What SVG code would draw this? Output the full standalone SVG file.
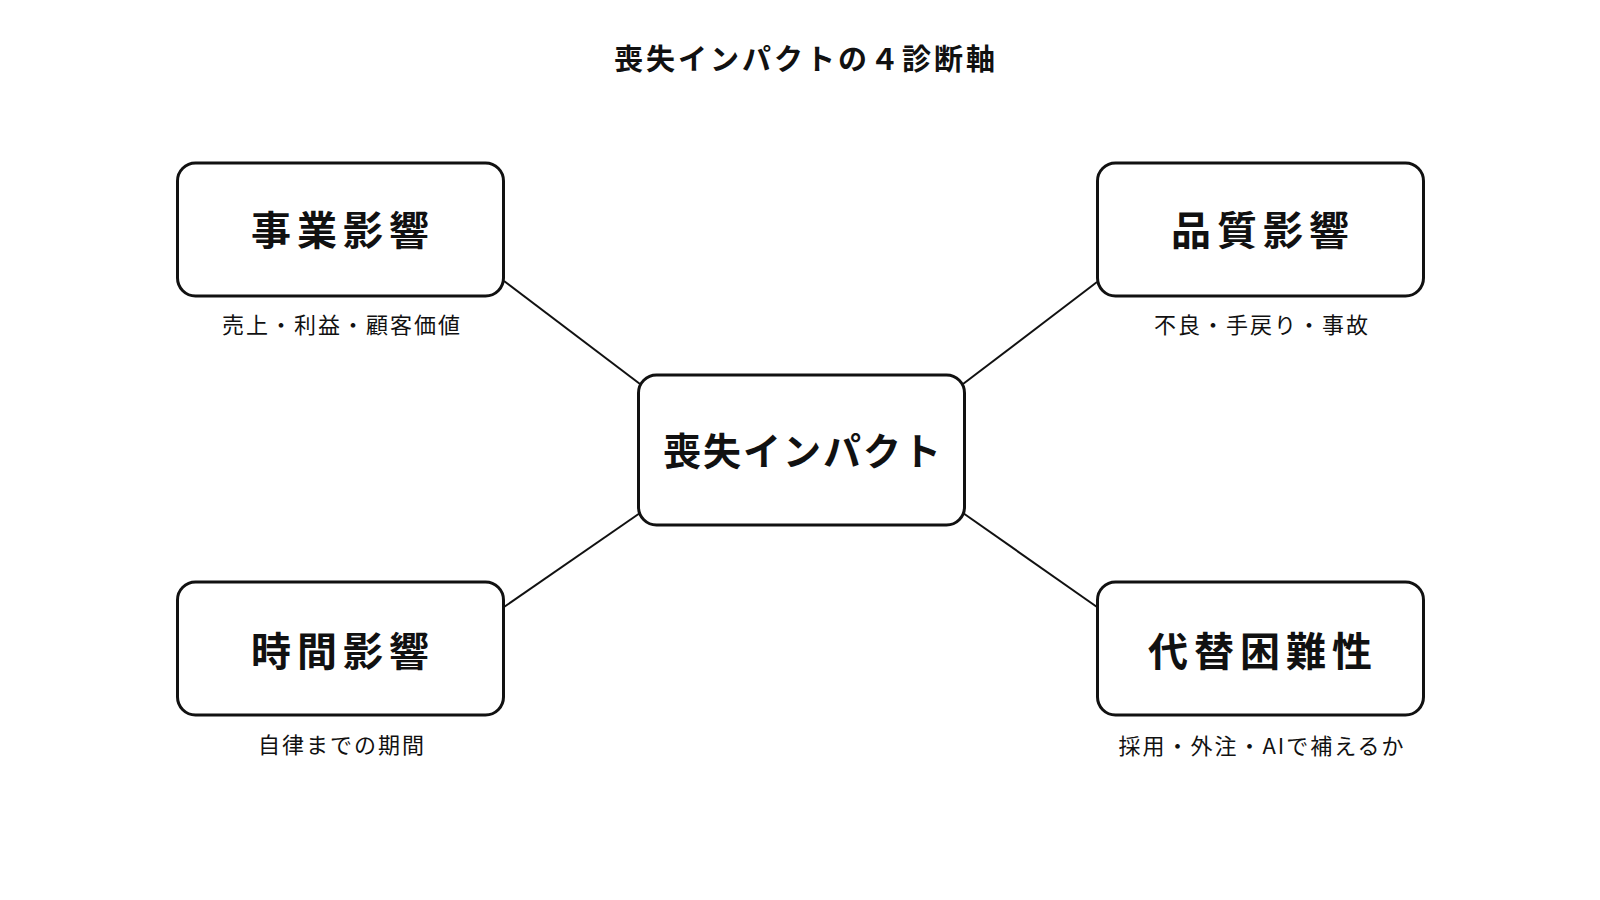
<svg xmlns="http://www.w3.org/2000/svg" width="1600" height="900" viewBox="0 0 1600 900">
<style>
.box{fill:#ffffff;stroke:#111111;stroke-width:3}
.t{font-family:"Noto Sans CJK JP","Noto Sans CJK SC",sans-serif;fill:#111111;text-anchor:middle;dominant-baseline:central}
.title{font-size:29px;font-weight:700;letter-spacing:3px}
.head{font-size:40px;font-weight:700;letter-spacing:6px}
.main{font-size:38px;font-weight:700;letter-spacing:2px}
.sub{font-size:22px;font-weight:400;letter-spacing:2px}
.conn{stroke:#111111;stroke-width:2;fill:none}
</style>
<rect width="1600" height="900" fill="#ffffff"/>
<text class="t title" x="806" y="57">喪失インパクトの４診断軸</text>
<g id="connectors">
<line class="conn" x1="504" y1="281" x2="640" y2="384"/>
<line class="conn" x1="504" y1="607" x2="640" y2="513"/>
<line class="conn" x1="963" y1="384" x2="1097" y2="282"/>
<line class="conn" x1="963" y1="513" x2="1097" y2="607"/>
</g>
<g id="center">
<rect class="box" x="638.5" y="375" width="326" height="150" rx="18"/>
<text class="t main" x="803" y="448">喪失インパクト</text>
</g>
<g id="business">
<rect class="box" x="177.5" y="163" width="326" height="133" rx="18"/>
<text class="t head" x="343" y="228">事業影響</text>
<text class="t sub" x="342" y="323">売上・利益・顧客価値</text>
</g>
<g id="quality">
<rect class="box" x="1097.5" y="163" width="326" height="133" rx="18"/>
<text class="t head" x="1263" y="228">品質影響</text>
<text class="t sub" x="1262" y="323">不良・手戻り・事故</text>
</g>
<g id="time">
<rect class="box" x="177.5" y="582" width="326" height="133" rx="18"/>
<text class="t head" x="343" y="649">時間影響</text>
<text class="t sub" x="342" y="743">自律までの期間</text>
</g>
<g id="substitute">
<rect class="box" x="1097.5" y="582" width="326" height="133" rx="18"/>
<text class="t head" x="1263" y="649">代替困難性</text>
<text class="t sub" x="1262" y="744">採用・外注・AIで補えるか</text>
</g>
</svg>
